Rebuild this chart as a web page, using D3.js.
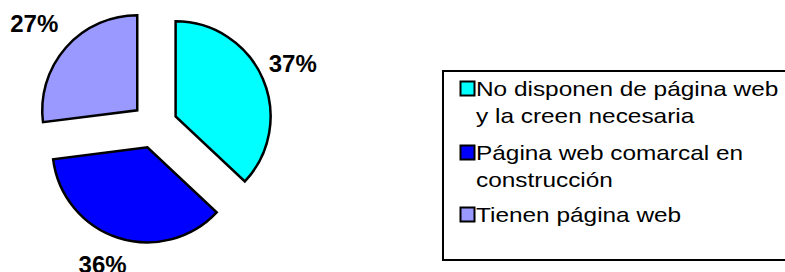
<!DOCTYPE html>
<html>
<head>
<meta charset="utf-8">
<script src="https://cdn.jsdelivr.net/npm/d3@7"></script>
<style>
  html, body { margin: 0; padding: 0; background: #fff; }
  svg { display: block; }
</style>
</head>
<body>
<svg id="chart" width="785" height="272"></svg>
<script>
const categories = [
  ["No disponen de página web", "y la creen necesaria"],
  ["Página web comarcal en", "construcción"],
  ["Tienen página web"]
];
const values = [37, 36, 27];
const valueLabels = ["37%", "36%", "27%"];
const colors = ["#00FFFF", "#0000FF", "#9999FF"];

const svg = d3.select("#chart");
const cx = 154.5, cy = 125.5, R = 95, explode = 23;
const labelRx = 155, labelRy = 149;

const pie = d3.pie().sort(null).value(d => d)(values);
const arc = d3.arc().innerRadius(0).outerRadius(R);

const g = svg.append("g").attr("transform", `translate(${cx},${cy})`);

g.selectAll("path.slice").data(pie).enter().append("path")
  .attr("class", "slice")
  .attr("d", arc)
  .attr("fill", (d, i) => colors[i])
  .attr("stroke", "#000")
  .attr("stroke-width", 2.5)
  .attr("stroke-linejoin", "miter")
  .attr("transform", d => {
    const a = (d.startAngle + d.endAngle) / 2;
    return `translate(${explode * Math.sin(a)},${-explode * Math.cos(a)})`;
  });

g.selectAll("text.lbl").data(pie).enter().append("text")
  .attr("class", "lbl")
  .attr("x", d => labelRx * Math.sin((d.startAngle + d.endAngle) / 2) - 4)
  .attr("y", d => -labelRy * Math.cos((d.startAngle + d.endAngle) / 2) - 3)
  .attr("text-anchor", "middle")
  .attr("dominant-baseline", "central")
  .attr("font-family", "Arial, 'Liberation Sans', sans-serif")
  .attr("font-weight", "bold")
  .attr("font-size", 24)
  .attr("fill", "#000")
  .text((d, i) => valueLabels[i]);

// Legend
const lg = svg.append("g");
lg.append("rect")
  .attr("x", 443).attr("y", 71).attr("width", 400).attr("height", 189)
  .attr("fill", "#fff").attr("stroke", "#000").attr("stroke-width", 2);

const lineH = 27.5;
const entryStart = [89, 153, 215];
categories.forEach((lines, i) => {
  const y0 = entryStart[i];
  lg.append("rect")
    .attr("x", 460.5).attr("y", y0 - 7.5).attr("width", 14).attr("height", 14)
    .attr("fill", colors[i]).attr("stroke", "#000").attr("stroke-width", 2);
  lines.forEach((t, j) => {
    lg.append("text")
      .attr("transform", `translate(476,${y0 + j * lineH}) scale(1.22,1)`)
      .attr("dominant-baseline", "central")
      .attr("font-family", "Arial, 'Liberation Sans', sans-serif")
      .attr("font-size", 20)
      .attr("fill", "#000")
      .text(t);
  });
});
</script>
</body>
</html>
